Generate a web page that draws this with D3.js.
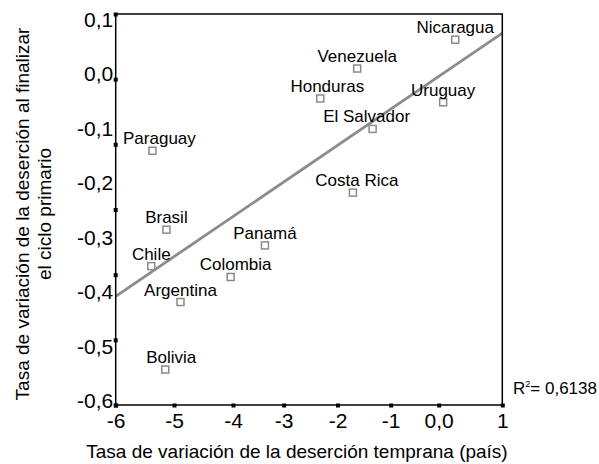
<!DOCTYPE html>
<html>
<head>
<meta charset="utf-8">
<script src="https://cdn.jsdelivr.net/npm/d3@7"></script>
<style>
  html, body { margin: 0; padding: 0; background: #fff; }
  svg { display: block; font-family: "Liberation Sans", Arial, sans-serif; }
</style>
</head>
<body>
<svg id="chart" width="599" height="464"></svg>
<script>
// Country-level rates: early dropout (x) vs. dropout at end of primary (y)
const countries = ["Paraguay", "Brasil", "Chile", "Colombia", "Argentina", "Bolivia", "Panamá",
  "Costa Rica", "El Salvador", "Honduras", "Venezuela", "Uruguay", "Nicaragua"];
const earlyRate = [-5.37, -5.13, -5.39, -4.04, -4.89, -5.15, -3.37,
  -1.71, -1.34, -2.32, -1.63, 0.07, 0.26];
const completionRate = [-0.142, -0.287, -0.354, -0.374, -0.420, -0.544, -0.316,
  -0.219, -0.102, -0.046, 0.009, -0.053, 0.062];

const xTickValues = [-6, -5, -4, -3, -2, -1, 0, 1];
const xTickLabels = ["-6", "-5", "-4", "-3", "-2", "-1", "0,0", "1"];
const yTickValues = [0.1, 0, -0.1, -0.2, -0.3, -0.4, -0.5, -0.6];
const yTickLabels = ["0,1", "0,0", "-0,1", "-0,2", "-0,3", "-0,4", "-0,5", "-0,6"];

// Least-squares fit line
const fitSlope = 0.0691;
const fitIntercept = 0.005;
const rSquaredLabel = "0,6138";

const xTitle = "Tasa de variación de la deserción temprana (país)";
const yTitleLines = ["Tasa de variación de la deserción al finalizar", "el ciclo primario"];

// ---- layout ----
const frame = { left: 115.7, right: 502.3, top: 14, bottom: 405 };
const ink = "#000";

const svg = d3.select("#chart");
svg.append("rect").attr("width", 599).attr("height", 464).attr("fill", "#fff");

// The horizontal axis has unequal gaps between its unit ticks
const x = d3.scaleLinear()
  .domain(xTickValues)
  .range([115.7, 174, 233, 283.7, 337.5, 390.7, 438.7, 502.3]);

const y = d3.scaleLinear()
  .domain([-0.6, 0.1])
  .range([400, 19]);

// Tick marks on the vertical axis are spread evenly along the frame
const yMarks = d3.scaleLinear().domain([0, 6]).range([frame.bottom, frame.top]);

// Fit line
const fitLine = d3.line().x(d => x(d)).y(d => y(fitIntercept + fitSlope * d));
svg.append("path")
  .datum(x.domain().filter((d, i, a) => i === 0 || i === a.length - 1))
  .attr("d", fitLine)
  .attr("fill", "none")
  .attr("stroke", "#8c8c8c")
  .attr("stroke-width", 2.8);

// Frame
svg.append("rect")
  .attr("x", frame.left).attr("y", frame.top)
  .attr("width", frame.right - frame.left)
  .attr("height", frame.bottom - frame.top)
  .attr("fill", "none")
  .attr("stroke", ink)
  .attr("stroke-width", 1.5);

// X axis: labels and square tick marks
const gx = svg.append("g")
  .attr("transform", `translate(0,${frame.bottom})`)
  .call(d3.axisBottom(x).tickValues(xTickValues)
    .tickFormat((d, i) => xTickLabels[i]).tickSize(0));
gx.select(".domain").remove();
gx.selectAll(".tick line")
  .attr("y1", -1.5).attr("y2", 2.5)
  .attr("stroke", ink).attr("stroke-width", 4);
gx.selectAll(".tick text")
  .attr("y", 22.5).attr("dy", 0)
  .attr("font-size", 21).attr("fill", ink)
  .attr("font-family", "Liberation Sans, Arial, sans-serif");

// Y axis labels
const gy = svg.append("g")
  .attr("transform", `translate(${frame.left},0)`)
  .call(d3.axisLeft(y).tickValues(yTickValues)
    .tickFormat((d, i) => yTickLabels[i]).tickSize(0));
gy.select(".domain").remove();
gy.selectAll(".tick text")
  .attr("x", -2.5).attr("dy", "0.36em")
  .attr("font-size", 21).attr("fill", ink)
  .attr("font-family", "Liberation Sans, Arial, sans-serif");

// Y axis square tick marks
const gym = svg.append("g")
  .attr("transform", `translate(${frame.left},0)`)
  .call(d3.axisLeft(yMarks).tickValues(d3.range(7)).tickFormat("").tickSize(0));
gym.select(".domain").remove();
gym.selectAll(".tick line")
  .attr("x1", -2).attr("x2", 2)
  .attr("stroke", ink).attr("stroke-width", 4);

// Points
const pts = countries.map((c, i) => ({ name: c, ex: earlyRate[i], cy: completionRate[i] }));
const labelNudge = { "Paraguay": 7, "Bolivia": 6, "Honduras": 7, "El Salvador": -6, "Colombia": 5, "Costa Rica": 4 };

svg.append("g").selectAll("rect")
  .data(pts).join("rect")
  .attr("x", d => x(d.ex) - 3.5)
  .attr("y", d => y(d.cy) - 3.5)
  .attr("width", 7).attr("height", 7)
  .attr("fill", "#fff")
  .attr("stroke", "#8a8a8a")
  .attr("stroke-width", 1.5);

svg.append("g").selectAll("text")
  .data(pts).join("text")
  .attr("x", d => x(d.ex) + (labelNudge[d.name] || 0))
  .attr("y", d => y(d.cy) - 6.5)
  .attr("text-anchor", "middle")
  .attr("font-size", 17)
  .attr("fill", ink)
  .text(d => d.name);

// R squared note
const r2 = svg.append("text")
  .attr("x", 513).attr("y", 394)
  .attr("font-size", 17).attr("fill", ink);
r2.append("tspan").text("R");
r2.append("tspan").attr("font-size", 9).attr("dy", -7).text("2");
r2.append("tspan").attr("dy", 7).text("= " + rSquaredLabel);

// Axis titles
svg.append("text")
  .attr("x", 297)
  .attr("y", 458)
  .attr("text-anchor", "middle")
  .attr("font-size", 19)
  .attr("fill", ink)
  .text(xTitle);

const yt = svg.append("text")
  .attr("transform", "translate(29,214) rotate(-90)")
  .attr("text-anchor", "middle")
  .attr("font-size", 19)
  .attr("fill", ink);
yTitleLines.forEach((line, i) => {
  yt.append("tspan").attr("x", 0).attr("y", i * 22).text(line);
});
</script>
</body>
</html>
